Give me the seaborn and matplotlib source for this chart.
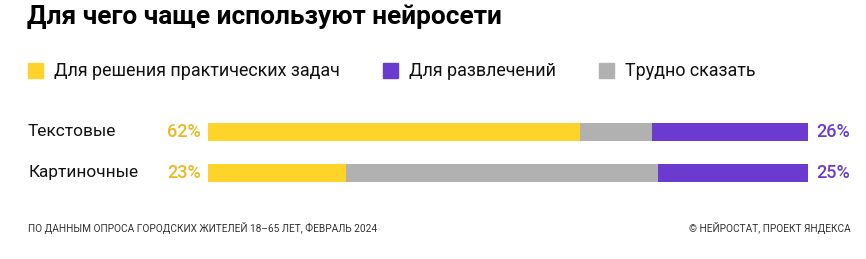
import matplotlib
matplotlib.use("Agg")
import matplotlib.pyplot as plt
import seaborn as sns
import pandas as pd
import numpy as np

categories = ["Текстовые", "Картиночные"]
practical = [62, 23]
hard_to_say = [12, 52]
fun = [26, 25]
series_names = ["Для решения практических задач", "Для развлечений", "Трудно сказать"]
title = "Для чего чаще используют нейросети"
footer_left = "ПО ДАННЫМ ОПРОСА ГОРОДСКИХ ЖИТЕЛЕЙ 18–65 ЛЕТ, ФЕВРАЛЬ 2024"
footer_right = "© НЕЙРОСТАТ, ПРОЕКТ ЯНДЕКСА"

YELLOW = "#FED42B"
GRAY = "#B1B1B1"
PURPLE = "#6A3BCE"
YELLOW_TXT = "#E9B91F"
PURPLE_TXT = "#6A3BCE"

sns.set_theme(style="white")
plt.rcParams["font.family"] = ["Roboto", "DejaVu Sans"]

W, H = 866, 259
fig = plt.figure(figsize=(W / 100, H / 100), dpi=100)

def px(x, y):
    return x / W, 1 - y / H

# axes: x 0-100 -> pixels 208-808 ; y region 110-195
ax_top, ax_bot = 110, 195
ax = fig.add_axes([208 / W, 1 - ax_bot / H, 600 / W, (ax_bot - ax_top) / H])

df = pd.DataFrame({
    "cat": categories,
    "practical": practical,
    "hard": hard_to_say,
    "fun": fun,
})
df["total"] = df["practical"] + df["hard"] + df["fun"]
df["ph"] = df["practical"] + df["hard"]

bw = 18 / 41
kw = dict(y="cat", saturation=1, width=bw, ax=ax, orient="h", linewidth=0)
sns.barplot(data=df, x="total", color=PURPLE, **kw)
sns.barplot(data=df, x="ph", color=GRAY, **kw)
sns.barplot(data=df, x="practical", color=YELLOW, **kw)

ax.set_xlim(0, 100)
c0, c1 = 132, 173
step = c1 - c0
ax.set_ylim(1 + (ax_bot - c1) / step, -(c0 - ax_top) / step)
ax.axis("off")

# row labels and percentages
for i, cat in enumerate(categories):
    yc = c0 + i * step
    fig.text(*px(28, yc), cat, fontsize=12.4, color="#111111", va="center", ha="left")
    fig.text(*px(201, yc), f"{practical[i]}%", fontsize=13, color=YELLOW_TXT,
             va="center", ha="right", fontweight="medium")
    fig.text(*px(816, yc), f"{fun[i]}%", fontsize=13, color=PURPLE_TXT,
             va="center", ha="left", fontweight="medium")

# title
fig.text(*px(27, 17), title, fontsize=18.9, fontweight="bold", color="#000000", va="center", ha="left")

# legend
legend_items = [(series_names[0], YELLOW, 28), (series_names[1], PURPLE, 383), (series_names[2], GRAY, 599)]
for name, col, x0 in legend_items:
    fig.patches.append(plt.Rectangle(px(x0, 78), 15 / W, 15 / H, transform=fig.transFigure,
                                     color=col, figure=fig))
    fig.text(*px(x0 + 26, 71), name, fontsize=12.9, color="#111111", va="center", ha="left")

# footer
fig.text(*px(28, 228), footer_left, fontsize=7.3, color="#333333", va="center", ha="left")
fig.text(*px(851, 228), footer_right, fontsize=7.3, color="#333333", va="center", ha="right")

fig.savefig("out.png", dpi=100)
